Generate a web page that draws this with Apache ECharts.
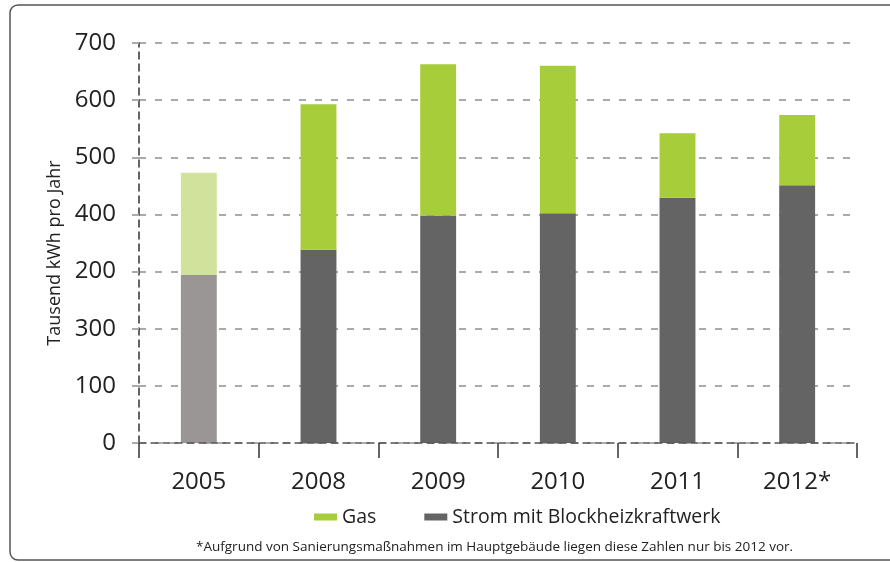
<!DOCTYPE html>
<html>
<head>
<meta charset="utf-8">
<script src="https://cdn.jsdelivr.net/npm/echarts@6/dist/echarts.min.js"></script>
<style>
  html, body { margin: 0; padding: 0; background: #fff; }
  #chart { width: 890px; height: 562px; }
</style>
</head>
<body>
<div id="chart"></div>
<script>
const years = ['2005', '2008', '2009', '2010', '2011', '2012*'];
const strom = [294, 338, 398, 402, 429, 451];
const gas = [179, 255, 265, 258, 113, 123];
// tick labels as printed in the original (200 and 300 appear swapped)
const tickLabels = ['0', '100', '300', '200', '400', '500', '600', '700'];

const font = 'Open Sans';
const chart = echarts.init(document.getElementById('chart'));

const strongFirst = (base, light) => (v, i) => ({
  value: v,
  itemStyle: { color: i === 0 ? light : base }
});

const option = {
  animation: false,
  textStyle: { fontFamily: font },
  graphic: [
    {
      type: 'rect',
      shape: { x: 10, y: 5, width: 900, height: 555, r: 8 },
      style: { fill: 'none', stroke: '#555', lineWidth: 1.5 }
    },
    {
      type: 'text',
      left: 196,
      top: 540,
      style: {
        text: '*Aufgrund von Sanierungsmaßnahmen im Hauptgebäude liegen diese Zahlen nur bis 2012 vor.',
        font: '13.5px "Open Sans"',
        fill: '#222'
      }
    }
  ],
  grid: { left: 139, right: 33, top: 43, bottom: 119, containLabel: false },
  legend: {
    data: ['Gas', 'Strom mit Blockheizkraftwerk'],
    top: 502,
    left: 309,
    itemWidth: 23,
    itemHeight: 7,
    itemGap: 48,
    icon: 'rect',
    textStyle: { fontSize: 19.5, color: '#222', fontFamily: font }
  },
  xAxis: {
    type: 'category',
    data: years,
    axisLine: { lineStyle: { color: '#555', type: [7, 5], width: 1.5 } },
    axisTick: { show: true, length: 15, lineStyle: { color: '#333', width: 1.5 } },
    axisLabel: { fontSize: 24, color: '#222', margin: 27, fontFamily: font },
    z: 10
  },
  yAxis: {
    type: 'value',
    min: 0,
    max: 700,
    interval: 100,
    name: 'Tausend kWh pro Jahr',
    nameLocation: 'middle',
    nameGap: 74,
    nameTextStyle: { fontSize: 18, color: '#222', fontFamily: font, padding: [0, 20, 0, 0] },
    axisLine: { show: true, lineStyle: { color: '#333', type: [7, 5], width: 1.5 } },
    axisTick: { show: true, length: 15, lineStyle: { color: '#aaa', type: [7, 9], width: 2 } },
    axisLabel: {
      fontSize: 24,
      color: '#222',
      margin: 23,
      fontFamily: font,
      formatter: v => tickLabels[Math.round(v / 100)]
    },
    splitLine: { lineStyle: { color: '#aaa', type: [7, 9], width: 2 } }
  },
  series: [
    {
      name: 'Strom mit Blockheizkraftwerk',
      type: 'bar',
      stack: 'total',
      barWidth: '30%',
      color: '#646464',
      data: strom.map(strongFirst('#646464', '#9a9696'))
    },
    {
      name: 'Gas',
      type: 'bar',
      stack: 'total',
      barWidth: '30%',
      color: '#a8cd3a',
      data: gas.map(strongFirst('#a8cd3a', '#d0e29c'))
    }
  ]
};

chart.setOption(option);
</script>
</body>
</html>
